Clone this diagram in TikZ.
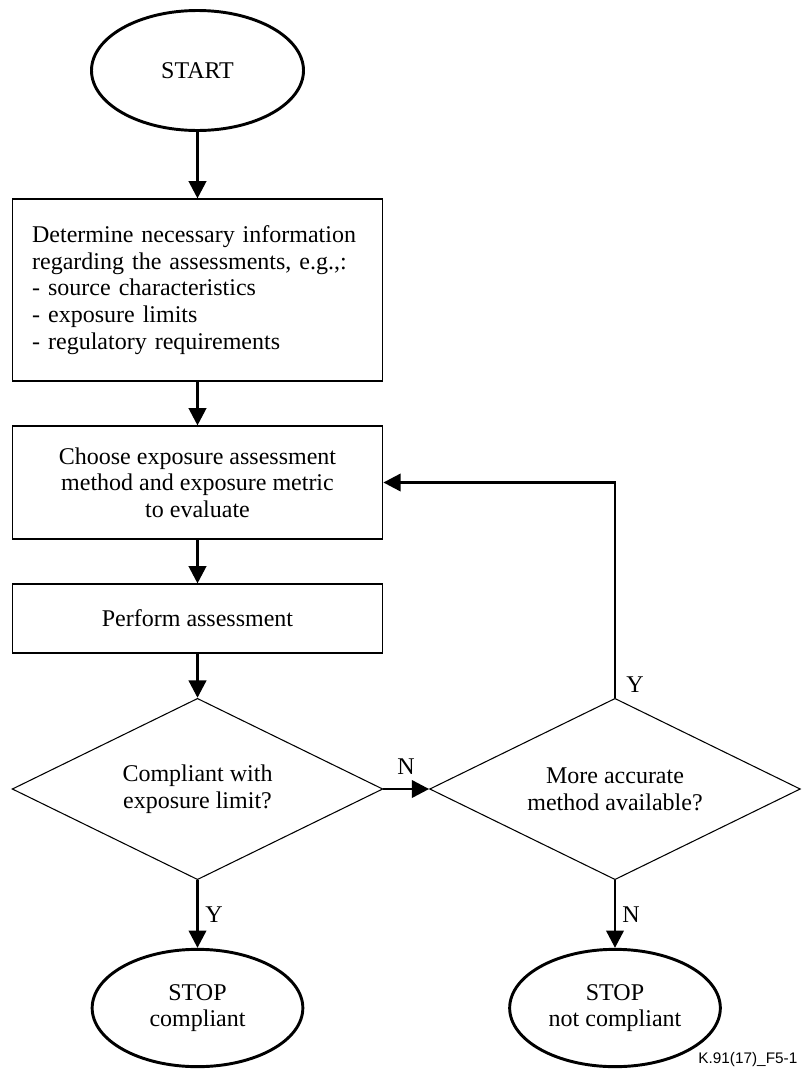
\documentclass[tikz,border=0pt]{standalone}
\usepackage{fontspec}
\setmainfont{Liberation Serif}
\newfontfamily\figlabelfont{Liberation Sans}
\usetikzlibrary{shapes.geometric,arrows.meta}

\begin{document}
\begin{tikzpicture}[x=0.75pt, y=-0.75pt,
  every node/.style = {align=center, font=\fontsize{18}{20}\selectfont},
  >={Triangle[width=13pt,length=13pt]}]
    \tikzstyle{terminal}=[ellipse, draw, line width=2.2pt, inner sep=0pt]
    \tikzstyle{process}=[rectangle, draw, line width=0.8pt, minimum width=278pt]
    \tikzstyle{decision}=[diamond, draw, line width=0.8pt, inner sep=0pt, aspect=2.04,
      minimum width=278pt, minimum height=136pt]
    \tikzstyle{flow}=[->, line width=2.2pt]
  \useasboundingbox (0,0) rectangle (803,1071);
  % left column
  \node [terminal, minimum width=159pt, minimum height=90pt] (start) at (197.5,70.5) {START};
  \node [process, minimum height=136.5pt, text width=248pt, inner xsep=15pt, align=left]
    (info) at (197.5,290) {Determine necessary information\\
      regarding the assessments, e.g.,:\\
      - source characteristics\\
      - exposure limits\\
      - regulatory requirements};
  \node [process, minimum height=84.75pt] (choose) at (197.5,482.5)
    {Choose exposure assessment\\ method and exposure metric\\ to evaluate};
  \node [process, minimum height=51.75pt] (perform) at (197.5,618.5) {Perform assessment};
  \node [decision] (comply) at (197.5,789) {Compliant with\\ exposure limit?};
  \node [terminal, minimum width=158pt, minimum height=88pt] (stopok) at (197.5,1008)
    {STOP\\ compliant};
  % right column
  \node [decision] (more) at (615,789) {More accurate\\ method available?};
  \node [terminal, minimum width=158pt, minimum height=88pt] (stopno) at (615,1008)
    {STOP\\ not compliant};
  % connectors
  \draw [flow] (start.south) -- (info.north);
  \draw [flow] (info.south) -- (choose.north);
  \draw [flow] (choose.south) -- (perform.north);
  \draw [flow] (perform.south) -- (comply.north);
  \draw [flow] (comply.south) -- (stopok.north);
  \draw [flow] (comply.east) -- (more.west);
  \draw [flow] (more.south) -- (stopno.north);
  \draw [flow] (more.north) |- (choose.east);
  % branch labels
  \node (yesok) at (214,915) {Y};
  \node (noright) at (406,767) {N};
  \node (yesloop) at (635,685) {Y};
  \node (nostop) at (631,915) {N};
  \node [anchor=east, font=\figlabelfont\fontsize{11.5}{13}\selectfont] (figid) at (802,1060)
    {K.91(17)\_F5-1};
\end{tikzpicture}
\end{document}
